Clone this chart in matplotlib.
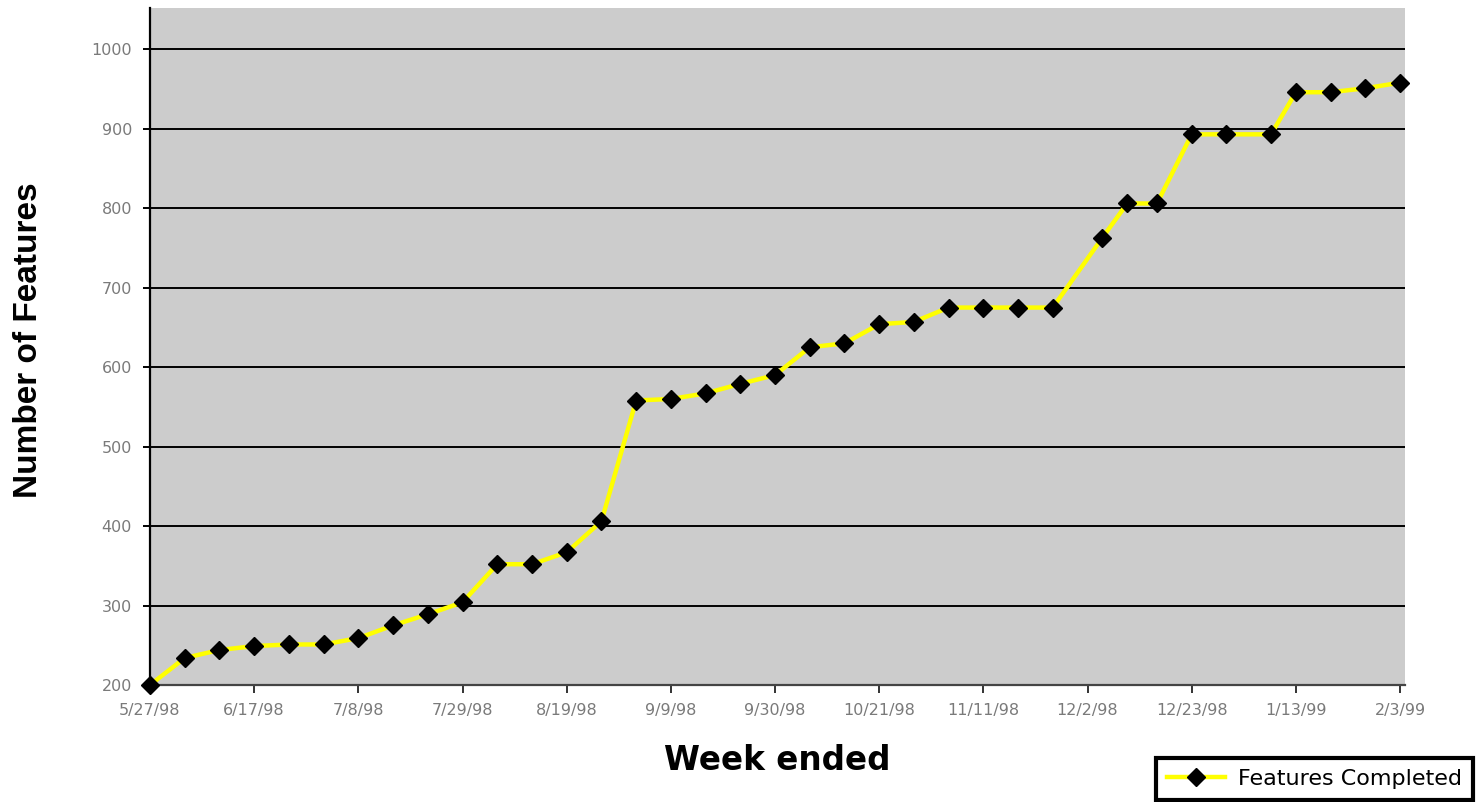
import matplotlib
matplotlib.use('Agg')
import matplotlib.pyplot as plt
import pandas as pd

# weekly feature counts
week_ended = [
    '1998-05-27', '1998-06-03', '1998-06-10', '1998-06-17', '1998-06-24',
    '1998-07-01', '1998-07-08', '1998-07-15', '1998-07-22', '1998-07-29',
    '1998-08-05', '1998-08-12', '1998-08-19', '1998-08-26', '1998-09-02',
    '1998-09-09', '1998-09-16', '1998-09-23', '1998-09-30', '1998-10-07',
    '1998-10-14', '1998-10-21', '1998-10-28', '1998-11-04', '1998-11-11',
    '1998-11-18', '1998-11-25', '1998-12-05', '1998-12-10', '1998-12-16',
    '1998-12-23', '1998-12-30', '1999-01-08', '1999-01-13', '1999-01-20',
    '1999-01-27', '1999-02-03',
]
features_completed = [
    200, 234, 244, 249, 251, 251, 259, 275, 289, 304,
    352, 352, 367, 406, 558, 560, 567, 579, 590, 625,
    630, 654, 657, 675, 675, 675, 675, 763, 806, 806,
    893, 893, 893, 946, 946, 951, 958,
]
tick_labels = ['5/27/98', '6/17/98', '7/8/98', '7/29/98', '8/19/98', '9/9/98',
               '9/30/98', '10/21/98', '11/11/98', '12/2/98', '12/23/98',
               '1/13/99', '2/3/99']
y_ticks = [200, 300, 400, 500, 600, 700, 800, 900, 1000]

dates = pd.to_datetime(week_ended)
tick_dates = pd.to_datetime(tick_labels, format='%m/%d/%y')

fig = plt.figure(figsize=(14.77, 8.02), dpi=100)
ax = fig.add_axes([150 / 1477, 1 - 685 / 802, 1255 / 1477, 677 / 802])
ax.set_facecolor('#cccccc')

ax.plot(dates, features_completed, color='#ffff00', linewidth=3.2,
        marker='D', markersize=8.8, markerfacecolor='black',
        markeredgecolor='black', clip_on=False, zorder=3,
        label='Features Completed')

ax.set_ylim(200, 1052)
ax.set_xlim(pd.Timestamp('1998-05-27'), pd.Timestamp('1999-02-04'))
ax.set_yticks(y_ticks)
ax.set_xticks(tick_dates)
ax.set_xticklabels(tick_labels)
ax.minorticks_off()

ax.yaxis.grid(True, color='black', linewidth=1.4)
ax.set_axisbelow(True)

for side in ['top', 'right']:
    ax.spines[side].set_visible(False)
ax.spines['left'].set_color('black')
ax.spines['left'].set_linewidth(1.6)
ax.spines['bottom'].set_color('#444444')
ax.spines['bottom'].set_linewidth(1.6)

ax.tick_params(axis='y', length=5, width=1.4, color='black', pad=8,
               labelsize=11.5, labelcolor='#7a7a7a')
ax.tick_params(axis='x', length=6, width=1.4, color='#333333', pad=7,
               labelsize=11.5, labelcolor='#7a7a7a')
for lab in ax.get_xticklabels() + ax.get_yticklabels():
    lab.set_family('DejaVu Sans')

fig.text(29 / 1477, 1 - 340 / 802, 'Number of Features', rotation=90,
         ha='center', va='center', fontsize=24, fontweight='bold',
         family='Liberation Sans')
fig.text(777 / 1477, 1 - 760 / 802, 'Week ended', ha='center', va='center',
         fontsize=23.5, fontweight='bold', family='DejaVu Sans')

leg = fig.legend(loc='lower right', bbox_to_anchor=(1473 / 1477, 2 / 802),
                 fancybox=False, framealpha=1, edgecolor='black',
                 prop={'family': 'DejaVu Sans', 'size': 16},
                 handlelength=2.6, handletextpad=0.6, borderpad=0.5,
                 borderaxespad=0)
leg.get_frame().set_linewidth(3)

fig.savefig('out.png', dpi=100)
